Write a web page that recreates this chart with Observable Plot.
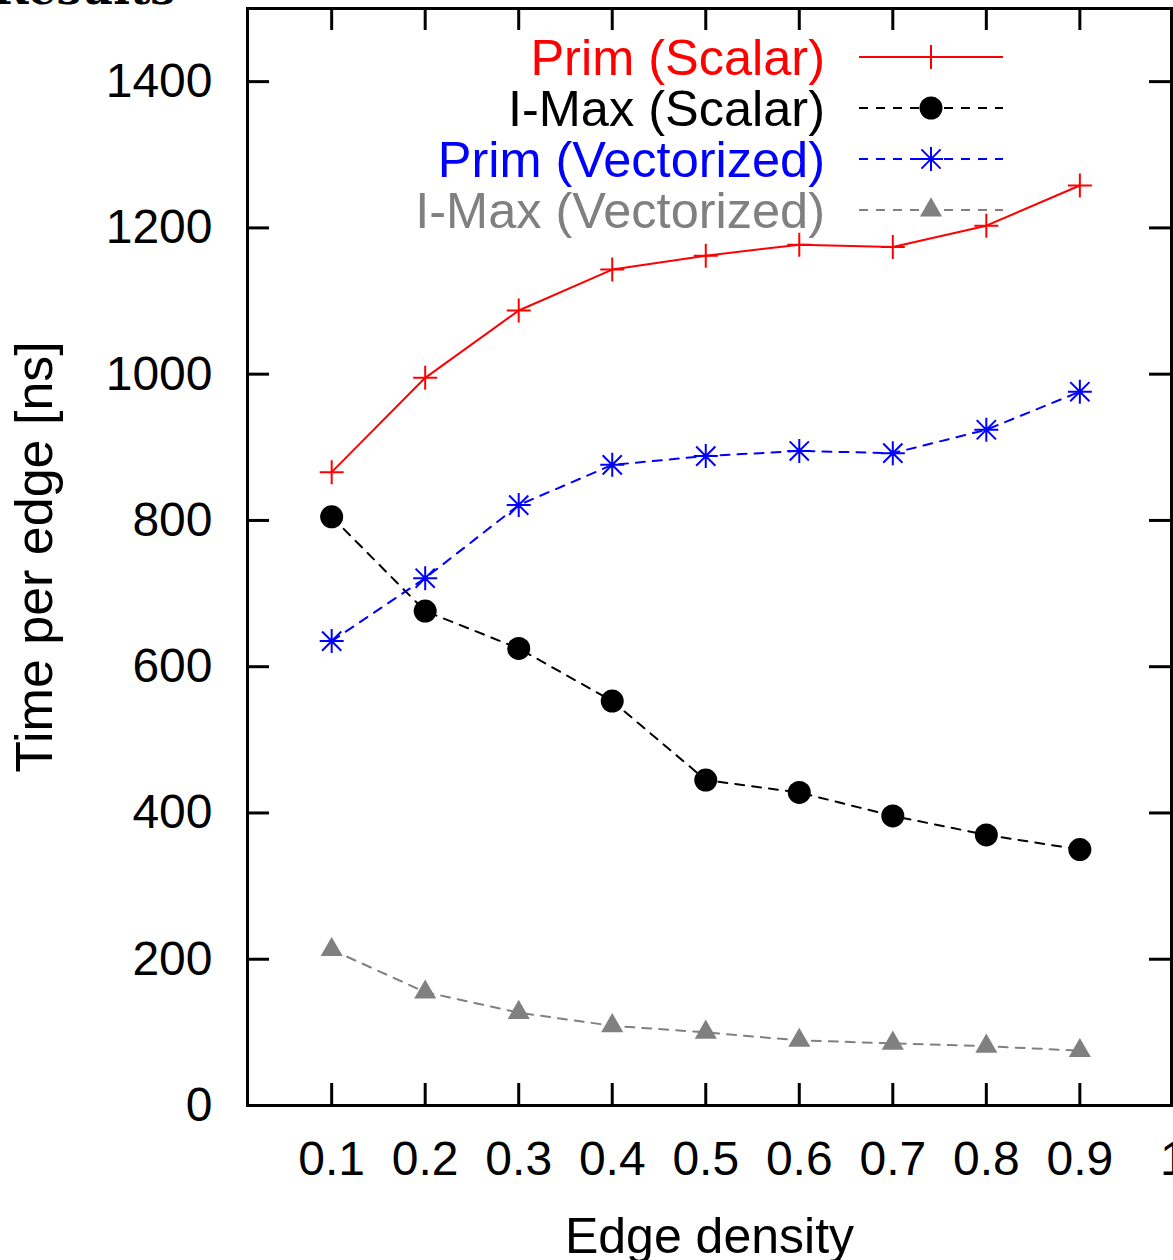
<!DOCTYPE html>
<html>
<head>
<meta charset="utf-8">
<script src="https://cdn.jsdelivr.net/npm/d3@7"></script>
<script src="https://cdn.jsdelivr.net/npm/@observablehq/plot@0.6"></script>
<style>
  html, body { margin: 0; padding: 0; background: white; overflow: hidden; }
  #chart { position: relative; width: 1173px; height: 1260px; }
</style>
</head>
<body>
<div id="chart"></div>
<script>
// ---- data ----
const density = [0.1, 0.2, 0.3, 0.4, 0.5, 0.6, 0.7, 0.8, 0.9];
const primScalar = [866, 995, 1087, 1143, 1162, 1177, 1174, 1203, 1258];
const imaxScalar = [805, 676, 625, 553, 445, 428, 396, 370, 350];
const primVec = [635, 721, 821, 876, 888, 895, 892, 924, 976];
const imaxVec = [213, 155, 127, 109, 100, 89, 85, 81, 75];
const seriesNames = ["Prim (Scalar)", "I-Max (Scalar)", "Prim (Vectorized)", "I-Max (Vectorized)"];
const xTickLabels = [0.1, 0.2, 0.3, 0.4, 0.5, 0.6, 0.7, 0.8, 0.9, 1.0];
const yTicks = [0, 200, 400, 600, 800, 1000, 1200, 1400];

// ---- symbols ----
const plusSym = {
  draw(ctx, size) {
    const r = Math.sqrt(size / Math.PI);
    ctx.moveTo(-r, 0); ctx.lineTo(r, 0);
    ctx.moveTo(0, -r); ctx.lineTo(0, r);
  }
};
const starSym = {
  draw(ctx, size) {
    const r = Math.sqrt(size / Math.PI);
    const d = r * 0.8;
    ctx.moveTo(-r, 0); ctx.lineTo(r, 0);
    ctx.moveTo(0, -r); ctx.lineTo(0, r);
    ctx.moveTo(-d, -d); ctx.lineTo(d, d);
    ctx.moveTo(-d, d); ctx.lineTo(d, -d);
  }
};

const mk = (vals) => density.map((x, i) => ({x, y: vals[i]}));
const dPrimS = mk(primScalar), dImaxS = mk(imaxScalar), dPrimV = mk(primVec), dImaxV = mk(imaxVec);

const W = 1173, H = 1260, mL = 247, mR = 2, mT = 8, mB = 155;
const innerW = W - mL - mR, innerH = H - mT - mB, tickLen = 22;
const font = "'Liberation Sans', Arial, Helvetica, sans-serif";

const plot = Plot.plot({
  width: W, height: H,
  marginLeft: mL, marginRight: mR, marginTop: mT, marginBottom: mB,
  style: {fontFamily: font, fontSize: "48px", color: "black", background: "white", overflow: "visible"},
  x: {domain: [0.01, 0.998]},
  y: {domain: [0, 1500]},
  marks: [
    Plot.axisX({ticks: xTickLabels, tickSize: 0, tickPadding: 35, tickFormat: d3.format(""), label: null}),
    Plot.axisY({ticks: yTicks, tickSize: 0, tickPadding: 35, tickFormat: d3.format("d"), label: null}),
    // inward ticks (bottom / top / left / right)
    Plot.tickX(density, {x: d => d, insetTop: innerH - tickLen, stroke: "black", strokeWidth: 3}),
    Plot.tickX(density, {x: d => d, insetBottom: innerH - tickLen, stroke: "black", strokeWidth: 3}),
    Plot.tickY(yTicks, {y: d => d, insetRight: innerW - tickLen, stroke: "black", strokeWidth: 3}),
    Plot.tickY(yTicks, {y: d => d, insetLeft: innerW - tickLen, stroke: "black", strokeWidth: 3}),
    // series
    Plot.line(dPrimS, {x: "x", y: "y", stroke: "#ff0000", strokeWidth: 2}),
    Plot.dot(dPrimS, {x: "x", y: "y", symbol: plusSym, r: 12, fill: "none", stroke: "#ff0000", strokeWidth: 2}),
    Plot.line(dImaxS, {x: "x", y: "y", stroke: "black", strokeWidth: 2, strokeDasharray: "9,8"}),
    Plot.dot(dImaxS, {x: "x", y: "y", symbol: "circle", r: 11.5, fill: "black", stroke: "none"}),
    Plot.line(dPrimV, {x: "x", y: "y", stroke: "#0000ff", strokeWidth: 2, strokeDasharray: "9,8"}),
    Plot.dot(dPrimV, {x: "x", y: "y", symbol: starSym, r: 12, fill: "none", stroke: "#0000ff", strokeWidth: 2}),
    Plot.line(dImaxV, {x: "x", y: "y", stroke: "#808080", strokeWidth: 2, strokeDasharray: "9,8"}),
    Plot.dot(dImaxV, {x: "x", y: "y", symbol: "triangle", r: 8.2, fill: "#808080", stroke: "none"}),
    Plot.frame({stroke: "black", strokeWidth: 3}),
    // axis titles
    Plot.text(["Edge density"], {frameAnchor: "bottom", text: d => d, dy: 147, lineAnchor: "bottom", fontSize: 50, fill: "black"}),
    Plot.text(["Time per edge [ns]"], {frameAnchor: "left", text: d => d, dx: -212, rotate: -90, textAnchor: "middle", lineAnchor: "middle", fontSize: 52, fill: "black"})
  ]
});
document.getElementById("chart").appendChild(plot);

// ---- legend & partial heading overlay ----
const svg = d3.select(plot);
svg.append("text").attr("x", -8).attr("y", 4).attr("text-anchor", "start")
  .attr("font-family", "'DejaVu Serif', serif").attr("font-weight", "bold").attr("font-size", 44)
  .attr("fill", "black").text("Results");

const legendColors = ["#ff0000", "black", "#0000ff", "#808080"];
const legendDash = [null, "9,8", "9,8", "9,8"];
const legendSym = [plusSym, d3.symbolCircle, starSym, d3.symbolTriangle];
const legendR = [12, 11.5, 12, 8.2];
const legendFill = [false, true, false, true];
const lg = svg.append("g");
seriesNames.forEach((name, i) => {
  const y = 57 + i * 51;
  lg.append("text").attr("x", 825).attr("y", y).attr("dy", "0.35em")
    .attr("text-anchor", "end").attr("font-family", font).attr("font-size", 50.5)
    .attr("fill", legendColors[i]).text(name);
  lg.append("line").attr("x1", 859).attr("x2", 1003).attr("y1", y).attr("y2", y)
    .attr("stroke", legendColors[i]).attr("stroke-width", 2)
    .attr("stroke-dasharray", legendDash[i]);
  const p = d3.path();
  legendSym[i].draw(p, legendR[i] * legendR[i] * Math.PI);
  lg.append("path").attr("transform", `translate(931,${y})`).attr("d", p.toString())
    .attr("fill", legendFill[i] ? legendColors[i] : "none")
    .attr("stroke", legendFill[i] ? "none" : legendColors[i]).attr("stroke-width", 2);
});
</script>
</body>
</html>
